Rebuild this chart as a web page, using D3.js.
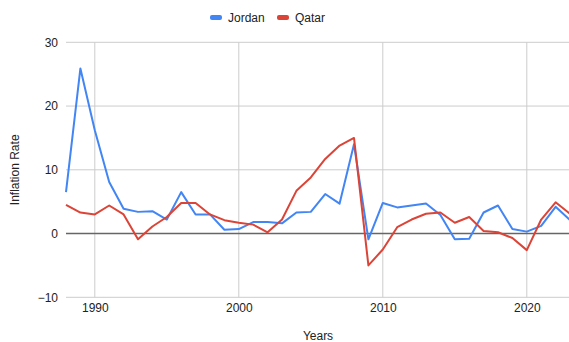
<!DOCTYPE html>
<html>
<head>
<meta charset="utf-8">
<script src="https://cdn.jsdelivr.net/npm/d3@7"></script>
<style>
  html, body { margin: 0; padding: 0; background: #fff; }
  svg { display: block; font-family: "Liberation Sans", Arial, sans-serif; }
</style>
</head>
<body>
<svg id="chart" width="569" height="342"></svg>
<script>
// Annual inflation rate (%), 1988–2023
const years = d3.range(1988, 2024);
const jordan = [6.5, 25.9, 16.2, 8.1, 3.9, 3.4, 3.5, 2.2, 6.5, 3.0, 3.0, 0.6, 0.7, 1.8, 1.8, 1.6,
                3.3, 3.4, 6.2, 4.7, 14.0, -0.9, 4.8, 4.1, 4.4, 4.7, 2.9, -0.9, -0.8, 3.3, 4.4, 0.7,
                0.3, 1.2, 4.2, 2.1];
const qatar = [4.5, 3.3, 3.0, 4.4, 3.0, -0.9, 1.1, 2.6, 4.8, 4.8, 3.0, 2.1, 1.7, 1.4, 0.2, 2.2,
               6.7, 8.8, 11.7, 13.8, 15.0, -5.0, -2.5, 1.0, 2.2, 3.1, 3.3, 1.7, 2.6, 0.4, 0.2, -0.7,
               -2.6, 2.2, 4.9, 3.1];
const seriesNames = ["Jordan", "Qatar"];
const seriesColors = ["#4285f4", "#db4437"];
const yTicks = [-10, 0, 10, 20, 30];
const xTicks = [1990, 2000, 2010, 2020];

const svg = d3.select("#chart");
const margin = { left: 66, right: 0, top: 42, bottom: 45 };
const W = 570, H = 342;

const x = d3.scaleLinear().domain([1988, 2023]).range([margin.left, W - margin.right]);
const y = d3.scaleLinear().domain([-10, 30]).range([297.3, 42.3]);

// Gridlines
const grid = svg.append("g");
grid.selectAll("line.h").data(yTicks.filter(d => d !== 0)).join("line")
  .attr("x1", margin.left).attr("x2", W)
  .attr("y1", d => y(d)).attr("y2", d => y(d))
  .attr("stroke", "#cccccc").attr("stroke-width", 1);
grid.selectAll("line.v").data(xTicks).join("line")
  .attr("x1", d => x(d)).attr("x2", d => x(d))
  .attr("y1", y(30)).attr("y2", y(-10))
  .attr("stroke", "#cccccc").attr("stroke-width", 1);

// Y axis labels
const yAxis = d3.axisLeft(y).tickValues(yTicks).tickSize(0).tickPadding(8).tickFormat(d3.format("d"));
svg.append("g").attr("transform", `translate(${margin.left},0)`).call(yAxis)
  .call(g => g.select(".domain").remove())
  .call(g => g.selectAll("text").attr("font-size", 12).attr("fill", "#222").attr("font-family", "Liberation Sans, Arial, sans-serif"));

// X axis labels
const xAxis = d3.axisBottom(x).tickValues(xTicks).tickSize(0).tickPadding(6).tickFormat(d3.format("d"));
svg.append("g").attr("transform", `translate(0,${y(-10)})`).call(xAxis)
  .call(g => g.select(".domain").remove())
  .call(g => g.selectAll("text").attr("font-size", 12).attr("fill", "#222").attr("font-family", "Liberation Sans, Arial, sans-serif"));

// Zero baseline
svg.append("line")
  .attr("x1", margin.left).attr("x2", W)
  .attr("y1", y(0)).attr("y2", y(0))
  .attr("stroke", "#666").attr("stroke-width", 1.5);

// Series lines
const line = d3.line().x((d, i) => x(years[i])).y(d => y(d));
[jordan, qatar].forEach((vals, k) => {
  svg.append("path").datum(vals)
    .attr("d", line)
    .attr("fill", "none")
    .attr("stroke", seriesColors[k])
    .attr("stroke-width", 2)
    .attr("stroke-linejoin", "round");
});

// Axis titles
svg.append("text")
  .attr("transform", `translate(19,${(y(30) + y(-10)) / 2}) rotate(-90)`)
  .attr("text-anchor", "middle")
  .attr("font-size", 12).attr("fill", "#222")
  .text("Inflation Rate");
svg.append("text")
  .attr("x", (margin.left + W) / 2).attr("y", 340)
  .attr("text-anchor", "middle")
  .attr("font-size", 12).attr("fill", "#222")
  .text("Years");

// Legend
const legend = svg.append("g");
const legendX = [210, 277];
seriesNames.forEach((name, k) => {
  legend.append("rect")
    .attr("x", legendX[k]).attr("y", 15)
    .attr("width", 12).attr("height", 5).attr("rx", 2)
    .attr("fill", seriesColors[k]);
  legend.append("text")
    .attr("x", legendX[k] + 18).attr("y", 22)
    .attr("font-size", 12).attr("fill", "#222")
    .text(name);
});
</script>
</body>
</html>
